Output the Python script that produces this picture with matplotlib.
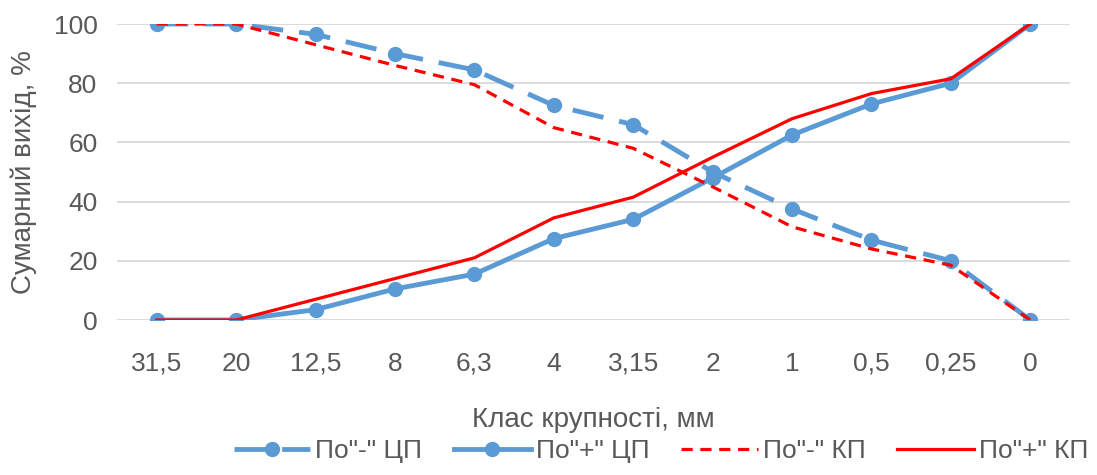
import numpy as np
import matplotlib
matplotlib.use('Agg')
import matplotlib.pyplot as plt

# size classes, mm
classes = ['31,5', '20', '12,5', '8', '6,3', '4', '3,15', '2', '1', '0,5', '0,25', '0']

# cumulative yield, %
cp_minus = [100, 100, 96.5, 90, 84.5, 72.5, 66, 50, 37.5, 27, 20, 0]
cp_plus = [0, 0, 3.5, 10.5, 15.5, 27.5, 34, 48, 62.5, 73, 80, 100]
kp_minus = [100, 100, 93, 86, 79.5, 65, 58, 45, 31.5, 24, 18.5, 0]
kp_plus = [0, 0, 7, 14, 21, 34.5, 41.5, 55, 68, 76.5, 81.5, 100]

blue = '#5B9BD5'
red = '#FF0000'
grey = '#595959'

plt.rcParams['font.family'] = ['Liberation Sans', 'DejaVu Sans']

W, H = 1097, 475
fig = plt.figure(figsize=(W / 100, H / 100), dpi=100)
ax = fig.add_axes([117 / W, 1 - 320 / H, (1070 - 117) / W, (320 - 24) / H])

x = np.arange(len(classes))
ax.plot(x, cp_minus, color=blue, lw=3.5, dashes=(6.5, 3.3), marker='o', markersize=10,
        label='По"-" ЦП', zorder=3)
ax.plot(x, cp_plus, color=blue, lw=3.5, marker='o', markersize=10, label='По"+" ЦП', zorder=3)
ax.plot(x, kp_minus, color=red, lw=2.3, dashes=(3.5, 2.4), label='По"-" КП', zorder=4)
ax.plot(x, kp_plus, color=red, lw=2.3, label='По"+" КП', zorder=4)

ax.set_xlim(-0.5, len(classes) - 0.5)
ax.set_ylim(0, 100)
ax.set_yticks(np.arange(0, 101, 20))
ax.set_xticks(x)
ax.set_xticklabels(classes)
ax.grid(axis='y', color='#D9D9D9', lw=1.3)
ax.set_axisbelow(True)
for s in ax.spines.values():
    s.set_visible(False)
ax.tick_params(length=0, colors=grey, labelsize=19)
ax.tick_params(axis='y', pad=14)
ax.tick_params(axis='x', pad=23)

ax.set_ylabel('Сумарний вихід, %', color=grey, fontsize=20)
ax.set_xlabel('Клас крупності, мм', color=grey, fontsize=20)
ax.yaxis.set_label_coords((24 - 117) / 953, 0.5)
ax.xaxis.set_label_coords(0.5, -100 / 296)
ax.yaxis.label.set_va('center')
ax.xaxis.label.set_va('center')

leg = fig.legend(loc='center', bbox_to_anchor=(661 / W, 1 - 451 / H), ncol=4, frameon=False,
                 fontsize=19, handlelength=2.9, handletextpad=0.2, columnspacing=1.2)
for t in leg.get_texts():
    t.set_color(grey)

fig.savefig('out.png', dpi=100)
